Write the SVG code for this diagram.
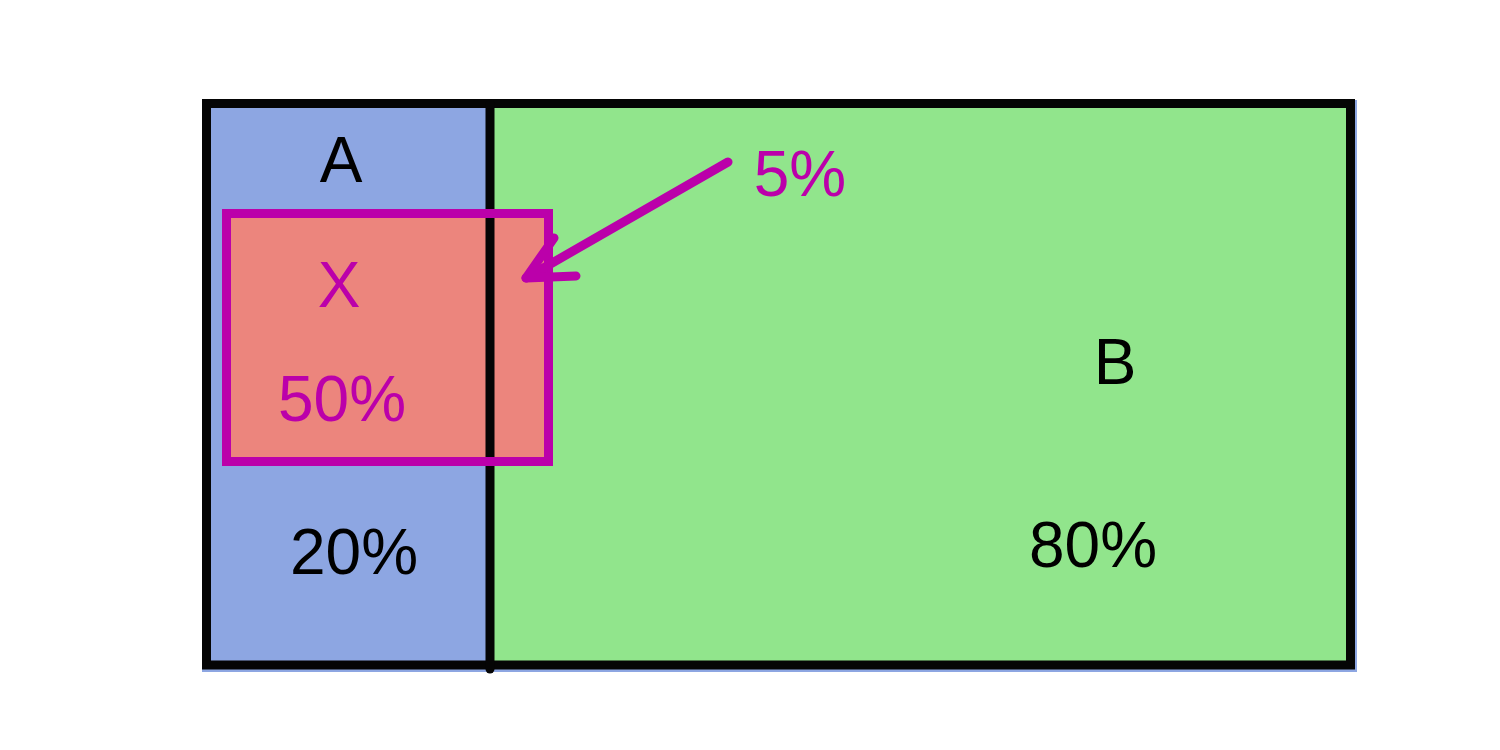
<svg xmlns="http://www.w3.org/2000/svg" width="1500" height="750" viewBox="0 0 1500 750">
<style>
.t{font-family:"Liberation Sans",Arial,sans-serif;font-size:64px;text-anchor:middle}
.k{fill:#000}
.m{fill:#BB00AA}
.mag{stroke:#BB00AA;stroke-width:9;fill:none;stroke-linecap:round;stroke-linejoin:round}
.box{stroke:#BB00AA;stroke-width:9;fill:none;stroke-linejoin:miter}
</style>
<rect width="1500" height="750" fill="#fff"/>
<g id="A">
<rect x="202" y="100" width="290" height="572" fill="#8DA6E2"/>
<text class="t k" x="341" y="182">A</text>
<text class="t k" x="354" y="574">20%</text>
</g>
<g id="B">
<rect x="490" y="100" width="867" height="572" fill="#8DA6E2"/>
<rect x="490" y="104" width="860" height="561" fill="#91E58C"/>
<text class="t k" x="1115" y="384">B</text>
<text class="t k" x="1093" y="567">80%</text>
</g>
<g id="X">
<rect x="226.5" y="213.5" width="322" height="248" fill="#EC857D"/>
</g>
<g id="frame">
<rect x="206.5" y="103.5" width="1144" height="561.5" fill="none" stroke="#050505" stroke-width="9"/>
<line x1="490" y1="104" x2="490" y2="669" stroke="#050505" stroke-width="9" stroke-linecap="round"/>
</g>
<g id="Xlabel">
<rect x="226.5" y="213.5" width="322" height="248" class="box"/>
<text class="t m" x="339" y="307">X</text>
<text class="t m" x="342" y="421">50%</text>
</g>
<g id="connectors">
<line x1="728" y1="162" x2="526" y2="278" class="mag" stroke-width="10"/>
<polyline points="554,238 526,278 576,276" class="mag" stroke-width="10"/>
</g>
<g id="label5">
<text class="t m" x="800" y="196">5%</text>
</g>
</svg>
